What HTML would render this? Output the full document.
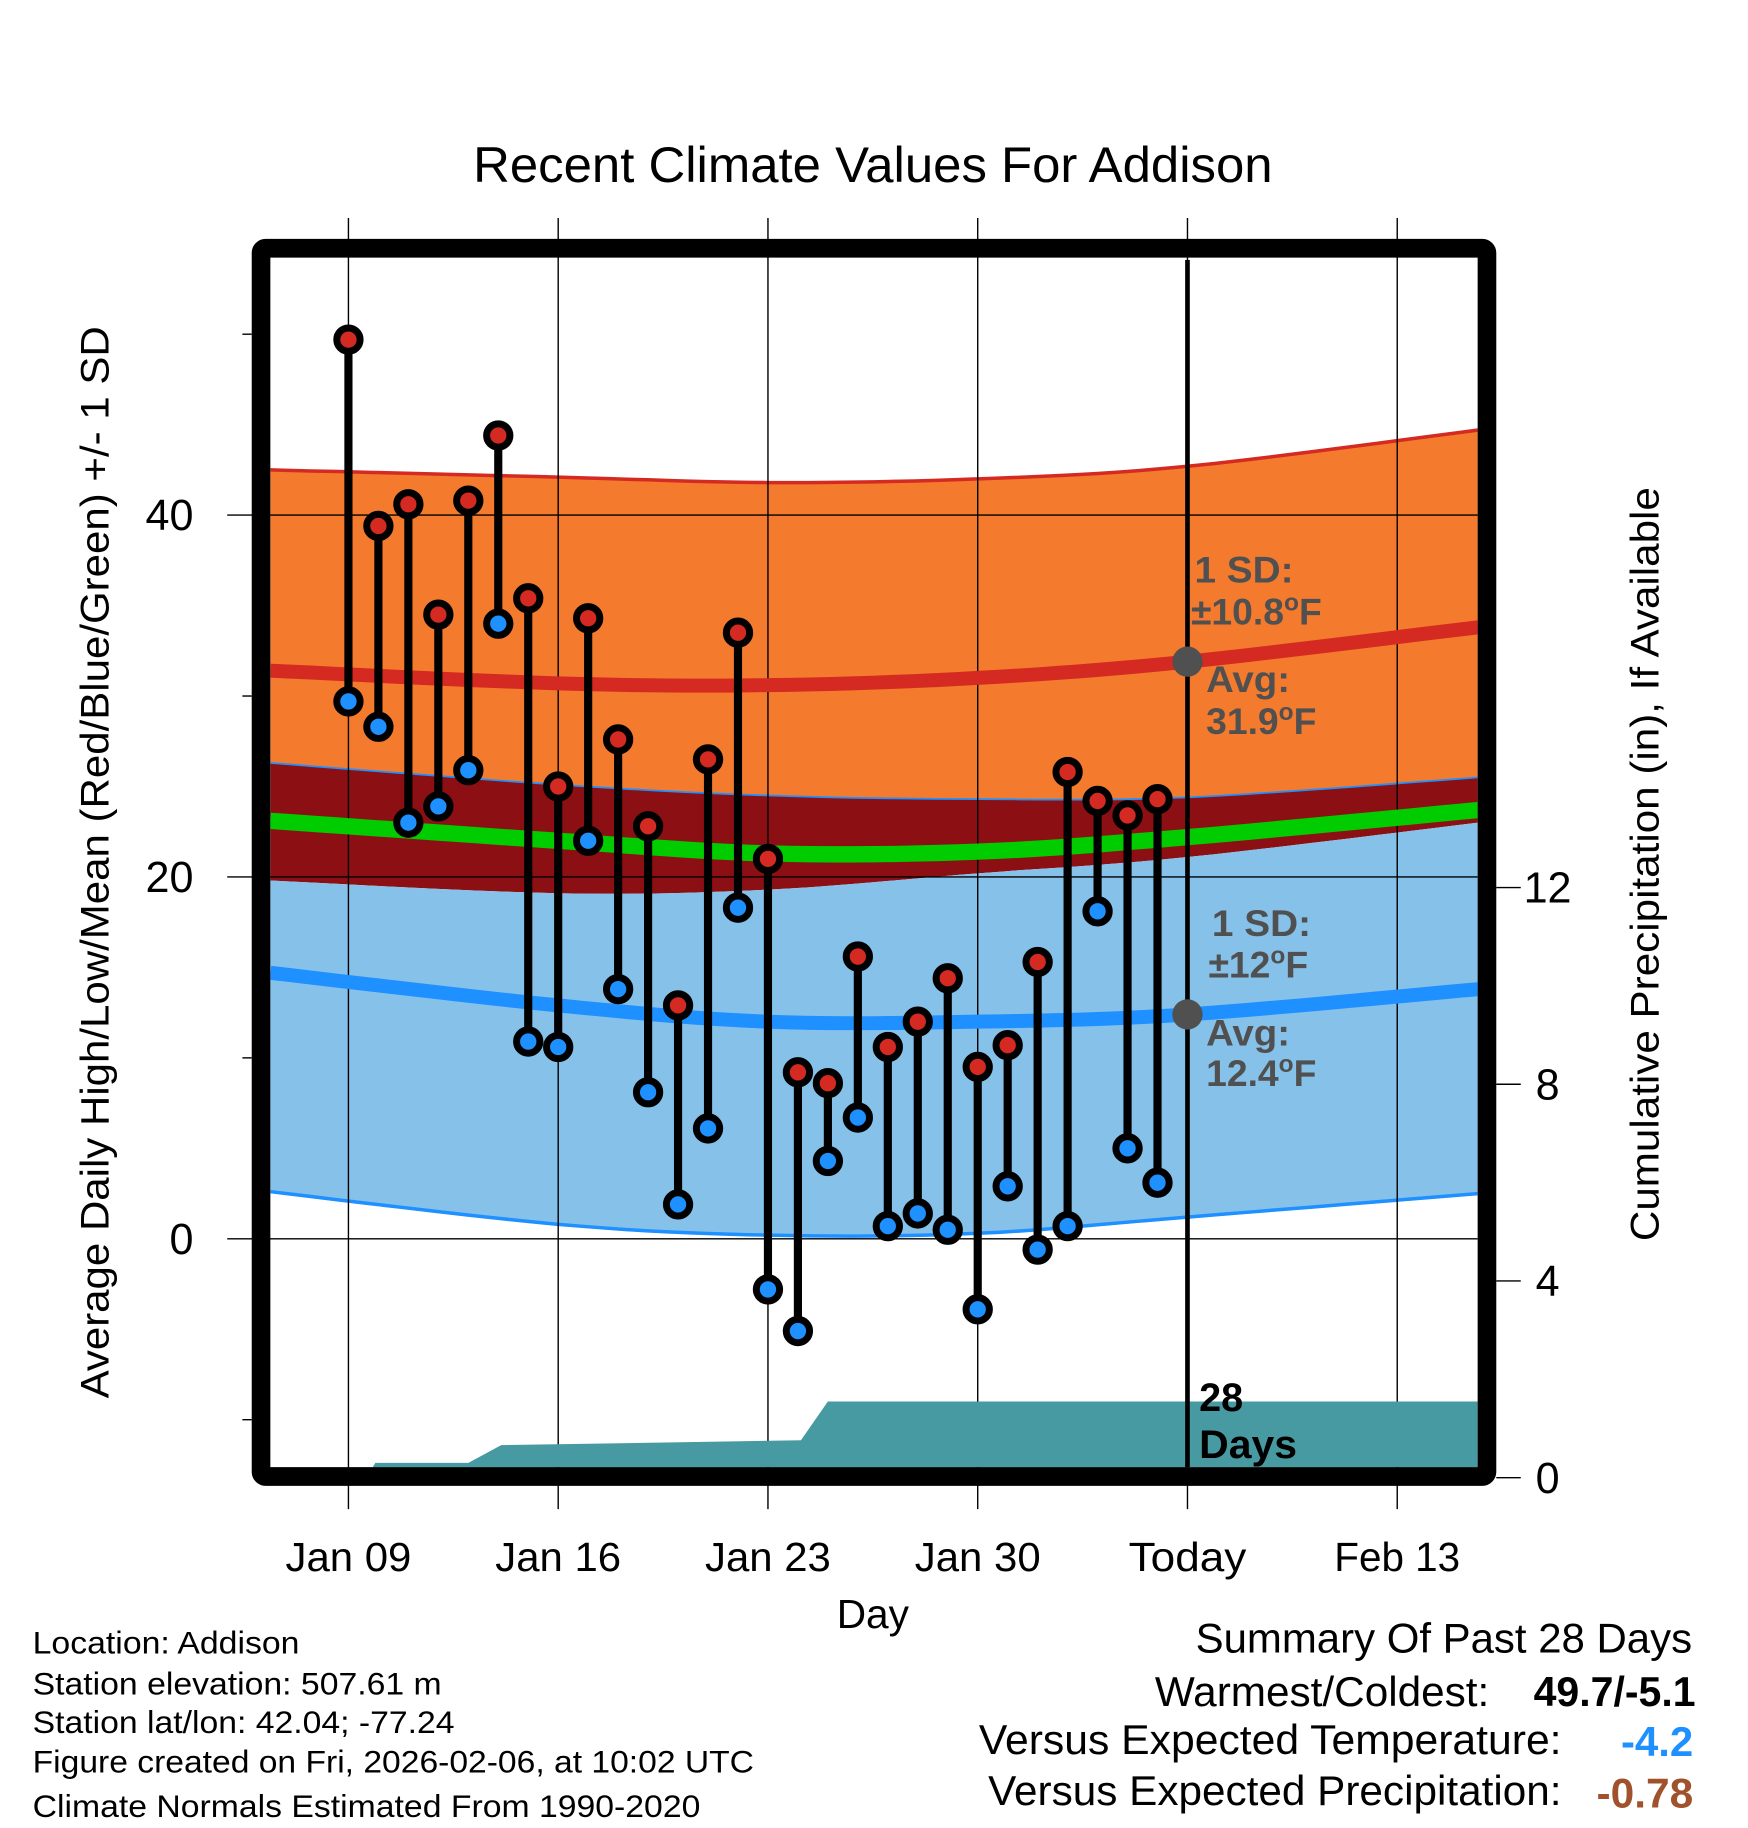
<!DOCTYPE html>
<html><head><meta charset="utf-8"><style>
html,body{margin:0;padding:0;background:#fff;}
svg{display:block;font-family:"Liberation Sans",Arial,sans-serif;}
</style></head><body>
<svg id="chart" width="1748" height="1828" viewBox="0 0 1500 1568.6" xmlns="http://www.w3.org/2000/svg">
<rect width="1500" height="1568.6" fill="#fff"/>
<defs><clipPath id="plotclip"><rect x="232" y="223" width="1036" height="1036"/></clipPath></defs>
<text x="406" y="156" font-size="43" textLength="686" lengthAdjust="spacingAndGlyphs">Recent Climate Values For Addison</text>
<g id="bands" clip-path="url(#plotclip)"></g>
<g id="grid"></g>
<g id="precip" clip-path="url(#plotclip)"></g>
<g id="normlines" clip-path="url(#plotclip)"></g>
<g id="stems"></g>
<g id="annot"></g>
<rect x="224" y="213" width="1052" height="1054" fill="none" stroke="#000" stroke-width="16" rx="4"/>
<g id="axes"></g>
<text transform="translate(93,1200) rotate(-90)" font-size="34" textLength="920" lengthAdjust="spacingAndGlyphs">Average Daily High/Low/Mean (Red/Blue/Green) +/- 1 SD</text>
<text transform="translate(1423,1065) rotate(-90)" font-size="34" textLength="647" lengthAdjust="spacingAndGlyphs">Cumulative Precipitation (in), If Available</text>
<text x="718" y="1397" font-size="35" textLength="62" lengthAdjust="spacingAndGlyphs">Day</text>
<g font-size="27" lengthAdjust="spacingAndGlyphs">
<text x="28" y="1419" textLength="229" lengthAdjust="spacingAndGlyphs">Location: Addison</text>
<text x="28" y="1454" textLength="351" lengthAdjust="spacingAndGlyphs">Station elevation: 507.61 m</text>
<text x="28" y="1487" textLength="362" lengthAdjust="spacingAndGlyphs">Station lat/lon: 42.04; -77.24</text>
<text x="28" y="1521" textLength="619" lengthAdjust="spacingAndGlyphs">Figure created on Fri, 2026-02-06, at 10:02 UTC</text>
<text x="28" y="1559" textLength="573" lengthAdjust="spacingAndGlyphs">Climate Normals Estimated From 1990-2020</text>
</g>
<g font-size="36">
<text x="1026" y="1418" textLength="426" lengthAdjust="spacingAndGlyphs">Summary Of Past 28 Days</text>
<text x="991" y="1464" textLength="287" lengthAdjust="spacingAndGlyphs">Warmest/Coldest:</text>
<text x="1316" y="1464" font-weight="bold" textLength="139" lengthAdjust="spacingAndGlyphs">49.7/-5.1</text>
<text x="840" y="1505" textLength="500" lengthAdjust="spacingAndGlyphs">Versus Expected Temperature:</text>
<text x="1391" y="1507" font-weight="bold" fill="#1e90ff" textLength="62" lengthAdjust="spacingAndGlyphs">-4.2</text>
<text x="848" y="1549" textLength="492" lengthAdjust="spacingAndGlyphs">Versus Expected Precipitation:</text>
<text x="1370" y="1551" font-weight="bold" fill="#a0522d" textLength="83" lengthAdjust="spacingAndGlyphs">-0.78</text>
</g>
</svg>
<script>
const normDays = [-2.6, 7, 14, 21, 28, 37.7];
const highUpper = [42.5, 42.1, 41.8, 42.0, 42.7, 44.7];
const highMean = [31.4, 30.7, 30.6, 31.0, 31.9, 33.8];
const highLower = [26.3, 25.1, 24.5, 24.3, 24.4, 25.5];
const avgMean = [23.1, 22.0, 21.3, 21.4, 22.2, 23.7];
const lowUpper = [19.8, 19.1, 19.3, 20.2, 21.1, 23.0];
const lowMean = [14.7, 12.9, 12.0, 12.0, 12.4, 13.8];
const lowLower = [2.6, 0.8, 0.2, 0.3, 1.2, 2.5];
const obsDays = [0,1,2,3,4,5,6,7,8,9,10,11,12,13,14,15,16,17,18,19,20,21,22,23,24,25,26,27];
const highs = [49.7,39.4,40.6,34.5,40.8,44.4,35.4,25.0,34.3,27.6,22.8,12.9,26.5,33.5,21.0,9.2,8.6,15.6,10.6,12.0,14.4,9.5,10.7,15.3,25.8,24.2,23.4,24.3];
const lows = [29.7,28.3,23.0,23.9,25.9,34.0,10.9,10.6,22.0,13.8,8.1,1.9,6.1,18.3,-2.8,-5.1,4.3,6.7,0.7,1.4,0.5,-3.9,2.9,-0.6,0.7,18.1,5.0,3.1];
const precipDays = [-2.6,0.6,0.9,4.0,5.1,15.1,16.0,37.7];
const precipVals = [0,0,0.3,0.3,0.66,0.76,1.55,1.55];
const xTickDays = [0,7,14,21,28,35];
const xTickLabels = ["Jan 09","Jan 16","Jan 23","Jan 30","Today","Feb 13"];
const yTicks = [0,20,40];
const yMinor = [-10,10,30,50];
const y2Ticks = [0,4,8,12];

const NS="http://www.w3.org/2000/svg";
const X = d => 299 + d*180/7;
const Y = t => 1063 - t*15.525;
const Y2 = p => 1268 - p*42.2;
function mk(parent, tag, attrs){const e=document.createElementNS(NS,tag);for(const k in attrs)e.setAttribute(k,attrs[k]);document.getElementById(parent).appendChild(e);return e;}
function pts(days, vals, f){return days.map((d,i)=>X(d).toFixed(1)+","+f(vals[i]).toFixed(1));}
// Catmull-Rom sampled smooth curve points
function curve(vals, f){
  const P = normDays.map((d,i)=>[X(d), f(vals[i])]);
  const out=[];
  for(let i=0;i<P.length-1;i++){
    const p0=P[Math.max(i-1,0)],p1=P[i],p2=P[i+1],p3=P[Math.min(i+2,P.length-1)];
    for(let s=0;s<10;s++){
      const t=s/10,t2=t*t,t3=t2*t;
      const c=(a,b,cc,dd)=>0.5*((2*b)+(-a+cc)*t+(2*a-5*b+4*cc-dd)*t2+(-a+3*b-3*cc+dd)*t3);
      out.push([c(p0[0],p1[0],p2[0],p3[0]),c(p0[1],p1[1],p2[1],p3[1])]);
    }
  }
  out.push(P[P.length-1]);
  return out;
}
const str = a => a.map(p=>p[0].toFixed(1)+","+p[1].toFixed(1)).join(" ");
function band(upper, lower, fill){
  const a = curve(upper, Y), b = curve(lower, Y).reverse();
  return mk('bands','polygon',{points:str(a.concat(b)),fill:fill});
}
let e;
e=band(highUpper, highLower, '#f47a2e');


e=band(highLower, lowUpper, '#8c0f14');


e=band(lowUpper, lowLower, '#85c1e9');


e=mk('bands','polyline',{points:str(curve(highUpper,Y)),fill:'none',stroke:'#d42a22','stroke-width':3});


e=mk('bands','polyline',{points:str(curve(lowLower,Y)),fill:'none',stroke:'#1e90ff','stroke-width':3});


e=mk('bands','polyline',{points:str(curve(highLower,Y)),fill:'none',stroke:'#1e90ff','stroke-width':1.5});



// grid
xTickDays.forEach((d,i)=>{
  const g=mk('grid','line',{x1:X(d),x2:X(d),y1:187,y2:1295,stroke:'#000','stroke-width':1.2});
  
  
  const w = xTickLabels[i]==="Today" ? 101 : 108;
  const t=mk('axes','text',{x:X(d)-w/2,y:1348,'font-size':35,textLength:w,lengthAdjust:'spacingAndGlyphs'});
  t.textContent=xTickLabels[i];
  
  
});
yTicks.forEach(v=>{
  const g=mk('grid','line',{x1:195,x2:1268,y1:Y(v),y2:Y(v),stroke:'#000','stroke-width':1.2});
  
  
  const t=mk('axes','text',{x:166,y:Y(v)+13,'font-size':37,'text-anchor':'end'});
  t.textContent=v;
  
  
});
yMinor.forEach(v=>{
  const g=mk('axes','line',{x1:208,x2:216,y1:Y(v),y2:Y(v),stroke:'#000','stroke-width':1.2});
  
  
});
y2Ticks.forEach(v=>{
  const g=mk('axes','line',{x1:1284,x2:1305,y1:Y2(v),y2:Y2(v),stroke:'#000','stroke-width':1.2});
  
  
  const t=mk('axes','text',{x:1328,y:Y2(v)+13,'font-size':37,'text-anchor':'middle'});
  t.textContent=v;
  
  
});

// precipitation
{
  const a=pts(precipDays,precipVals,Y2);
  e=mk('precip','polygon',{points:a.join(" ")+" "+X(37.7)+",1270 "+X(-2.6)+",1270",fill:'#479aa1'});
  
  
}

// normal mean lines
e=mk('normlines','polyline',{points:str(curve(highMean,Y)),fill:'none',stroke:'#d42a22','stroke-width':12});


e=mk('normlines','polyline',{points:str(curve(avgMean,Y)),fill:'none',stroke:'#00cc00','stroke-width':14});


e=mk('normlines','polyline',{points:str(curve(lowMean,Y)),fill:'none',stroke:'#1e90ff','stroke-width':12});



// today line
e=mk('normlines','line',{x1:X(28),x2:X(28),y1:223,y2:1262,stroke:'#000','stroke-width':4});



// stems
obsDays.forEach((d,i)=>{
  const x=X(d);
  const s=mk('stems','line',{x1:x,x2:x,y1:Y(highs[i]),y2:Y(lows[i]),stroke:'#000','stroke-width':7});
  
  
  const h=mk('stems','circle',{cx:x,cy:Y(highs[i]),r:10,fill:'#d42a22',stroke:'#000','stroke-width':6});
  
  
  const l=mk('stems','circle',{cx:x,cy:Y(lows[i]),r:10,fill:'#1e90ff',stroke:'#000','stroke-width':6});
  
  
});

// annotations
function txt(x,y,s,name,w){const t=mk('annot','text',{x:x,y:y,'font-size':32,'font-weight':'bold',fill:'#505050'});if(w){t.setAttribute('textLength',w);t.setAttribute('lengthAdjust','spacingAndGlyphs');}t.innerHTML=s;return t;}
e=mk('annot','circle',{cx:X(28),cy:Y(31.9),r:13,fill:'#505050'});


e=mk('annot','circle',{cx:X(28),cy:Y(12.4),r:13,fill:'#505050'});


txt(1025,500,'1 SD:','high-sd-label',85);
txt(1022,536,'±10.8<tspan dy="-12" font-size="21">o</tspan><tspan dy="12">F</tspan>','high-sd-value');
txt(1035,594,'Avg:','high-avg-label',72);
txt(1035,630,'31.9<tspan dy="-12" font-size="21">o</tspan><tspan dy="12">F</tspan>','high-avg-value');
txt(1040,803,'1 SD:','low-sd-label',85);
txt(1037,839,'±12<tspan dy="-12" font-size="21">o</tspan><tspan dy="12">F</tspan>','low-sd-value');
txt(1035,897,'Avg:','low-avg-label',72);
txt(1035,932,'12.4<tspan dy="-12" font-size="21">o</tspan><tspan dy="12">F</tspan>','low-avg-value');
e=mk('annot','text',{x:1029,y:1211,'font-size':34,'font-weight':'bold',fill:'#000'});
e.textContent='28';


e=mk('annot','text',{x:1029,y:1251,'font-size':34,'font-weight':'bold',fill:'#000',textLength:84,lengthAdjust:'spacingAndGlyphs'});
e.textContent='Days';


</script>
</body></html>
